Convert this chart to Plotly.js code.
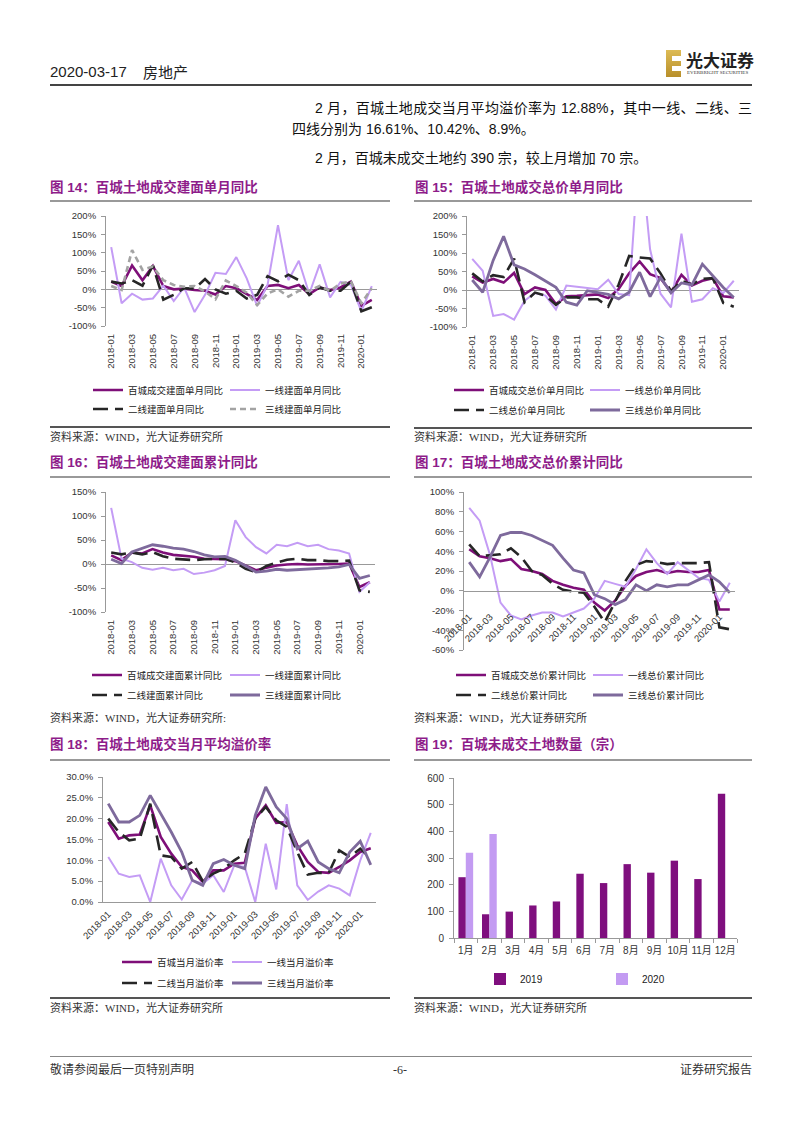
<!DOCTYPE html>
<html><head><meta charset="utf-8">
<script src="https://cdn.plot.ly/plotly-3.0.1.min.js"></script>
<style>
body{margin:0;background:#fff;}
#page{position:relative;width:802px;height:1133px;overflow:hidden;font-family:"Liberation Sans","Noto Sans CJK SC",sans-serif;color:#222;background:#fff;}
.abs{position:absolute;white-space:nowrap;}
.rule{position:absolute;}
.title{position:absolute;white-space:nowrap;font-size:13.5px;font-weight:bold;color:#8E1C8A;line-height:16px;font-family:"Liberation Sans","Noto Sans CJK SC",sans-serif;}
.src{position:absolute;white-space:nowrap;font-size:11px;color:#333;line-height:14px;font-family:"Liberation Serif","Noto Sans CJK SC",serif;}
.para{position:absolute;font-size:14px;line-height:18px;color:#111;font-family:"Liberation Sans","Noto Sans CJK SC",sans-serif;}
.chart{position:absolute;}
</style></head>
<body>
<div id="page">
  <div class="abs" style="left:50px;top:63px;font-size:15px;line-height:18px;color:#222;">2020-03-17</div>
  <div class="abs" style="left:143px;top:63px;font-size:15px;line-height:18px;color:#222;font-family:'Noto Sans CJK SC';">房地产</div>
  <div class="rule" style="left:666px;top:50px;width:15px;height:27px;background:linear-gradient(#DDBB55,#B88F2A);"></div>
  <div class="rule" style="left:672px;top:56px;width:9px;height:5px;background:#fff;"></div>
  <div class="rule" style="left:672px;top:66px;width:9px;height:5px;background:#fff;"></div>
  <div class="abs" style="left:686px;top:50px;font-size:17px;line-height:20px;font-weight:bold;color:#222;font-family:'Noto Sans CJK SC';">光大证券</div>
  <div class="abs" style="left:687px;top:70px;font-size:5px;line-height:6px;color:#333;font-family:'Liberation Serif';">EVERBRIGHT SECURITIES</div>
  <div class="rule" style="left:50px;top:84px;width:702px;height:1.5px;background:#444;"></div>

  <div class="para" style="left:315px;top:99px;width:437px;text-align:justify;text-align-last:justify;">2 月，百城土地成交当月平均溢价率为 12.88%，其中一线、二线、三</div>
  <div class="para" style="left:292px;top:120px;white-space:nowrap;">四线分别为 16.61%、10.42%、8.9%。</div>
  <div class="para" style="left:315px;top:149px;white-space:nowrap;">2 月，百城未成交土地约 390 宗，较上月增加 70 宗。</div>

  <div class="title" style="left:50px;top:180px;">图 14：百城土地成交建面单月同比</div>
  <div class="title" style="left:415px;top:180px;">图 15：百城土地成交总价单月同比</div>
  <div class="rule" style="left:50px;top:200px;width:340px;height:2px;background:#999;"></div>
  <div class="rule" style="left:414px;top:200px;width:338px;height:2px;background:#999;"></div>
  <div class="rule" style="left:50px;top:426px;width:340px;height:1.5px;background:#555;"></div>
  <div class="rule" style="left:414px;top:427px;width:338px;height:1.5px;background:#555;"></div>
  <div class="src" style="left:50px;top:430px;">资料来源：WIND，光大证券研究所</div>
  <div class="src" style="left:414px;top:430px;">资料来源：WIND，光大证券研究所</div>

  <div class="title" style="left:50px;top:455px;">图 16：百城土地成交建面累计同比</div>
  <div class="title" style="left:415px;top:455px;">图 17：百城土地成交总价累计同比</div>
  <div class="rule" style="left:50px;top:476px;width:340px;height:2px;background:#999;"></div>
  <div class="rule" style="left:414px;top:476px;width:338px;height:2px;background:#999;"></div>
  <div class="src" style="left:50px;top:711px;">资料来源：WIND，光大证券研究所:</div>
  <div class="src" style="left:414px;top:711px;">资料来源：WIND，光大证券研究所</div>

  <div class="title" style="left:50px;top:737px;">图 18：百城土地成交当月平均溢价率</div>
  <div class="title" style="left:415px;top:737px;">图 19：百城未成交土地数量（宗）</div>
  <div class="rule" style="left:50px;top:759px;width:340px;height:2px;background:#999;"></div>
  <div class="rule" style="left:414px;top:759px;width:338px;height:2px;background:#999;"></div>
  <div class="rule" style="left:50px;top:997px;width:340px;height:1.5px;background:#555;"></div>
  <div class="rule" style="left:414px;top:997px;width:338px;height:1.5px;background:#555;"></div>
  <div class="src" style="left:50px;top:1001px;">资料来源：WIND，光大证券研究所</div>
  <div class="src" style="left:414px;top:1001px;">资料来源：WIND，光大证券研究所</div>

  <div class="rule" style="left:50px;top:1056px;width:702px;height:1px;background:#888;"></div>
  <div class="src" style="left:50px;top:1063px;font-size:12px;">敬请参阅最后一页特别声明</div>
  <div class="src" style="left:380px;top:1063px;width:40px;text-align:center;font-size:12px;">-6-</div>
  <div class="src" style="left:652px;top:1063px;width:100px;text-align:right;font-size:12px;">证券研究报告</div>

  <div id="c14" class="chart" style="left:40px;top:205px;width:360px;height:220px;"></div>
  <div id="c15" class="chart" style="left:405px;top:205px;width:360px;height:220px;"></div>
  <div id="c16" class="chart" style="left:40px;top:480px;width:360px;height:230px;"></div>
  <div id="c17" class="chart" style="left:405px;top:480px;width:360px;height:230px;"></div>
  <div id="c18" class="chart" style="left:40px;top:765px;width:360px;height:230px;"></div>
  <div id="c19" class="chart" style="left:405px;top:765px;width:360px;height:230px;"></div>
</div>
<script>
const months = ['2018-01','2018-02','2018-03','2018-04','2018-05','2018-06','2018-07','2018-08','2018-09','2018-10','2018-11','2018-12','2019-01','2019-02','2019-03','2019-04','2019-05','2019-06','2019-07','2019-08','2019-09','2019-10','2019-11','2019-12','2020-01','2020-02'];

// Fig 14 (%)
const c14_main = [21, 9, 65, 25, 64, 9, 0, 2, -2, -4, -14, 9, 3, -13, -29, 9, 12, 3, 12, -13, 5, -2, 5, 21, -45, -29];
const c14_t1   = [115, -38, -12, -28, -25, 10, -32, 5, -62, -15, 45, 42, 88, 30, -45, 12, 175, 25, 78, -12, 68, -22, 20, 12, -60, 9];
const c14_t2   = [21, 16, 25, 10, 65, -28, -15, 3, 2, 28, 0, -12, -4, -25, -15, 36, 22, 40, 25, -15, 5, -4, -4, 21, -60, -49];
const c14_t3   = [9, -2, 107, 53, 62, 25, 12, 7, 9, -6, -27, 24, 9, -9, -43, -11, 0, -20, -4, -4, 9, -4, 16, 21, -38, 3];
const names14 = ['百城成交建面单月同比','一线建面单月同比','二线建面单月同比','三线建面单月同比'];

// Fig 15 (%)
const c15_main = [37, 20, 30, 20, 46, -11, 7, 0, -38, -17, -16, -14, -12, -22, 3, 45, 77, 43, 32, -6, 41, 12, 25, 32, -17, -20];
const c15_t1   = [84, 52, -70, -65, -80, -29, -8, -15, -53, 12, 9, 5, 2, 28, -11, -14, 400, 110, -10, -47, 152, -32, -25, 5, -8, 25];
const c15_t2   = [45, 23, 40, 35, 85, -33, -7, -15, -40, -20, -20, -25, -25, -45, 15, 92, 88, 85, 45, -3, 25, 15, 30, 32, -35, -45];
const c15_t3   = [27, -6, 80, 145, 68, 57, 41, 25, 7, -33, -41, -2, -6, -12, -24, -6, 48, -18, 34, -8, 19, 14, 70, 39, 7, -20];
const names15 = ['百城成交总价单月同比','一线总价单月同比','二线总价单月同比','三线总价单月同比'];

// Fig 16 (%)
const c16_main = [18, 8, 24, 22, 31, 24, 19, 17, 15, 11, 11, 10, 6, -4, -13, -8, -3, -1, 0, -1, -1, -1, 0, 1, -48, -38];
const c16_t1   = [117, 11, 4, -8, -12, -8, -13, -10, -21, -18, -13, -4, 91, 56, 35, 22, 40, 37, 44, 37, 40, 31, 28, 22, -58, -38];
const c16_t2   = [24, 20, 24, 20, 25, 16, 11, 9, 8, 10, 11, 11, 3, -10, -17, -4, 3, 9, 11, 8, 8, 6, 6, 7, -55, -58];
const c16_t3   = [10, 1, 25, 32, 40, 37, 33, 31, 26, 19, 15, 16, 8, -4, -17, -15, -11, -13, -12, -11, -10, -8, -6, -1, -30, -24];
const names16 = ['百城成交建面累计同比','一线建面累计同比','二线建面累计同比','三线建面累计同比'];

// Fig 17 (%)
const c17_main = [42, 35, 33, 30, 32, 22, 20, 17, 10, 6, 3, 1, -12, -20, -10, 5, 15, 19, 21, 18, 20, 19, 19, 21, -19, -19];
const c17_t1   = [84, 71, 36, -12, -25, -29, -25, -22, -22, -26, -22, -18, -8, 10, 7, 4, 22, 42, 28, 17, 29, 21, 13, 11, -11, 8];
const c17_t2   = [47, 35, 36, 37, 43, 34, 20, 16, 7, 1, -1, -2, -16, -32, -11, 10, 26, 30, 29, 27, 28, 28, 28, 29, -37, -39];
const c17_t3   = [29, 14, 34, 56, 59, 59, 56, 51, 46, 33, 21, 18, -4, -8, -14, -9, 6, 0, 6, 4, 6, 6, 11, 16, 9, -2];
const names17 = ['百城成交总价累计同比','一线总价累计同比','二线总价累计同比','三线总价累计同比'];

// Fig 18 (%)
const c18_main = [19.2, 15.2, 16.0, 16.2, 23.2, 15.6, 11.6, 8.4, 7.6, 4.8, 7.6, 7.6, 9.2, 9.4, 20.0, 23.2, 19.0, 19.2, 13.6, 9.6, 7.2, 7.0, 8.4, 10.0, 12.0, 12.88];
const c18_t1   = [10.8, 6.8, 6.0, 6.4, 0.0, 10.4, 4.0, 0.6, 5.2, 4.4, 6.4, 2.4, 8.8, 8.4, 0.0, 14.0, 3.0, 23.5, 4.0, 0.5, 2.5, 4.0, 3.2, 1.6, 10.0, 16.61];
const c18_t2   = [20.0, 16.8, 14.8, 15.2, 23.6, 11.2, 10.8, 8.0, 9.6, 5.0, 6.8, 8.0, 10.0, 11.6, 20.0, 22.8, 19.6, 18.0, 12.0, 6.6, 7.0, 7.0, 12.4, 10.8, 12.8, 10.42];
const c18_t3   = [23.6, 19.2, 19.2, 20.8, 25.6, 21.2, 16.8, 12.0, 5.2, 4.0, 9.2, 10.2, 8.8, 8.0, 20.8, 27.6, 22.8, 20.0, 12.8, 14.6, 9.6, 8.0, 7.0, 12.0, 14.6, 8.9];
const names18 = ['百城当月溢价率','一线当月溢价率','二线当月溢价率','三线当月溢价率'];

// Fig 19 (宗)
const months19 = ['1月','2月','3月','4月','5月','6月','7月','8月','9月','10月','11月','12月'];
const c19_2019 = [228, 89, 99, 122, 137, 241, 206, 277, 245, 290, 221, 541];
const c19_2020 = [320, 390];
const names19 = ['2019','2020'];

const yTicks14 = [-100, -50, 0, 50, 100, 150, 200];
const yTicks16 = [-100, -50, 0, 50, 100, 150];
const yTicks17 = [-60, -40, -20, 0, 20, 40, 60, 80, 100];
const yTicks18 = [0, 5, 10, 15, 20, 25, 30];
const yTicks19 = [0, 100, 200, 300, 400, 500, 600];

const tickMonths = months.filter((m, i) => i % 2 === 0);

const COL_MAIN = '#7E0F78', COL_T1 = '#C49CF5', COL_T2 = '#262626', COL_T3 = '#7E6A9C', COL_T3G = '#A3A3A3';
const styleSolid3 = [
  {color: COL_MAIN, width: 2.6},
  {color: COL_T1, width: 2},
  {color: COL_T2, width: 2.6, dash: '15px,7px'},
  {color: COL_T3, width: 2.8}
];
const style14 = [
  {color: COL_MAIN, width: 2.6},
  {color: COL_T1, width: 2},
  {color: COL_T2, width: 2.6, dash: '15px,7px'},
  {color: COL_T3G, width: 2.6, dash: '6px,4px'}
];

const pct = v => v + '%';
const pct1 = v => v.toFixed(1) + '%';
const CFG = {staticPlot: true, displayModeBar: false};

function legendBase(x, y) {
  return {orientation: 'h', xref: 'container', yref: 'container', x: x, y: y,
    xanchor: 'left', yanchor: 'middle', entrywidthmode: 'pixels',
    font: {family: 'Noto Sans CJK SC', size: 9.5, color: '#222'},
    bgcolor: 'rgba(0,0,0,0)', borderwidth: 0, traceorder: 'normal'};
}

function drawLine(id, c) {
  const traces = c.data.map((d, i) => ({
    type: 'scatter', mode: 'lines', x: months, y: d, name: c.names[i],
    line: c.styles[i], legend: i < 2 ? 'legend' : 'legend2', hoverinfo: 'skip',
    legendwidth: i % 2 === 0 ? c.leg.ew : 80
  }));
  const layout = {
    width: c.w, height: c.h,
    margin: {l: c.m[0], r: c.m[1], t: c.m[2], b: c.m[3], pad: 0},
    paper_bgcolor: 'rgba(0,0,0,0)', plot_bgcolor: 'rgba(0,0,0,0)',
    font: {family: 'Liberation Sans, Noto Sans CJK SC', size: 9.5, color: '#333'},
    showlegend: true,
    xaxis: {type: 'category', range: [-0.5, months.length - 0.5], tickmode: 'array',
      tickvals: tickMonths, ticktext: tickMonths, tickangle: c.xangle,
      showgrid: false, zeroline: false, showline: !!c.xline, linecolor: '#999', linewidth: 1,
      ticks: '', automargin: false, ticklabelstandoff: c.standoff || 0},
    yaxis: {range: c.yr, tickmode: 'array', tickvals: c.yt, ticktext: c.yt.map(c.fmt),
      showgrid: false, showline: true, linecolor: '#999', linewidth: 1,
      ticks: 'outside', ticklen: 4, tickcolor: '#999', ticklabelstandoff: 3,
      zeroline: !!c.zl, zerolinecolor: '#999', zerolinewidth: 1, automargin: false},
    legend: legendBase(c.leg.x, c.leg.y1),
    legend2: legendBase(c.leg.x, c.leg.y2)
  };
  if (c.xfree) {
    layout.xaxis.anchor = 'free';
    layout.xaxis.position = (0 - c.yr[0]) / (c.yr[1] - c.yr[0]);
  }
  Plotly.newPlot(id, traces, layout, CFG);
}

drawLine('c14', {w: 360, h: 220, m: [66, 23, 11, 99], names: names14,
  data: [c14_main, c14_t1, c14_t2, c14_t3], styles: style14,
  yr: [-100, 200], yt: yTicks14, fmt: pct, zl: true, xangle: -90, standoff: 5,
  leg: {x: 48 / 360, y1: 1 - 185 / 220, y2: 1 - 204 / 220, ew: 92}});

drawLine('c15', {w: 360, h: 220, m: [62, 26, 11, 98], names: names15,
  data: [c15_main, c15_t1, c15_t2, c15_t3], styles: styleSolid3,
  yr: [-100, 200], yt: yTicks14, fmt: pct, zl: true, xangle: -90, standoff: 5,
  leg: {x: 44 / 360, y1: 1 - 185 / 220, y2: 1 - 205 / 220, ew: 91}});

drawLine('c16', {w: 360, h: 230, m: [66, 25, 12, 98], names: names16,
  data: [c16_main, c16_t1, c16_t2, c16_t3], styles: styleSolid3,
  yr: [-100, 150], yt: yTicks16, fmt: pct, zl: true, xangle: -90, standoff: 5,
  leg: {x: 47 / 360, y1: 1 - 195 / 230, y2: 1 - 215 / 230, ew: 93}});

drawLine('c17', {w: 360, h: 230, m: [59, 30, 12, 60], names: names17,
  data: [c17_main, c17_t1, c17_t2, c17_t3], styles: styleSolid3,
  yr: [-60, 100], yt: yTicks17, fmt: pct, zl: false, xangle: -45, xline: true, xfree: true, standoff: 16,
  leg: {x: 46 / 360, y1: 1 - 195 / 230, y2: 1 - 215 / 230, ew: 92}});

drawLine('c18', {w: 360, h: 230, m: [63, 24, 12, 93], names: names18,
  data: [c18_main, c18_t1, c18_t2, c18_t3], styles: styleSolid3,
  yr: [0, 30], yt: yTicks18, fmt: pct1, zl: false, xangle: -45, xline: true, standoff: 2,
  leg: {x: 77 / 360, y1: 1 - 197 / 230, y2: 1 - 218 / 230, ew: 65}});

// Fig 19 bars
Plotly.newPlot('c19', [
  {type: 'bar', x: months19, y: c19_2019, name: names19[0], marker: {color: '#7F0F7E'}, hoverinfo: 'skip', legendwidth: 77},
  {type: 'bar', x: months19.slice(0, c19_2020.length), y: c19_2020, name: names19[1], marker: {color: '#C39BF2'}, hoverinfo: 'skip', legendwidth: 40}
], {
  width: 360, height: 230, margin: {l: 49, r: 28, t: 13, b: 57, pad: 0},
  paper_bgcolor: 'rgba(0,0,0,0)', plot_bgcolor: 'rgba(0,0,0,0)',
  font: {family: 'Liberation Sans, Noto Sans CJK SC', size: 10, color: '#333'},
  barmode: 'group', bargap: 0.375, bargroupgap: 0, showlegend: true,
  xaxis: {type: 'category', categoryorder: 'array', categoryarray: months19, showgrid: false, zeroline: false,
    showline: true, linecolor: '#999', linewidth: 1, ticks: 'outside', tickson: 'boundaries',
    ticklen: 4, tickcolor: '#999', automargin: false, ticklabelstandoff: 3, tickangle: 0,
    tickfont: {family: 'Liberation Sans, Noto Sans CJK SC', size: 10, color: '#333'}},
  yaxis: {range: [0, 600], tickmode: 'array', tickvals: yTicks19, ticktext: yTicks19.map(String),
    showgrid: false, showline: true, linecolor: '#999', linewidth: 1, ticks: 'outside', ticklen: 4,
    tickcolor: '#999', ticklabelstandoff: 3, zeroline: false, automargin: false},
  legend: Object.assign(legendBase(75 / 360, 1 - 214 / 230), {font: {family: 'Liberation Sans', size: 10, color: '#222'}})
}, CFG);
</script>
</body></html>
